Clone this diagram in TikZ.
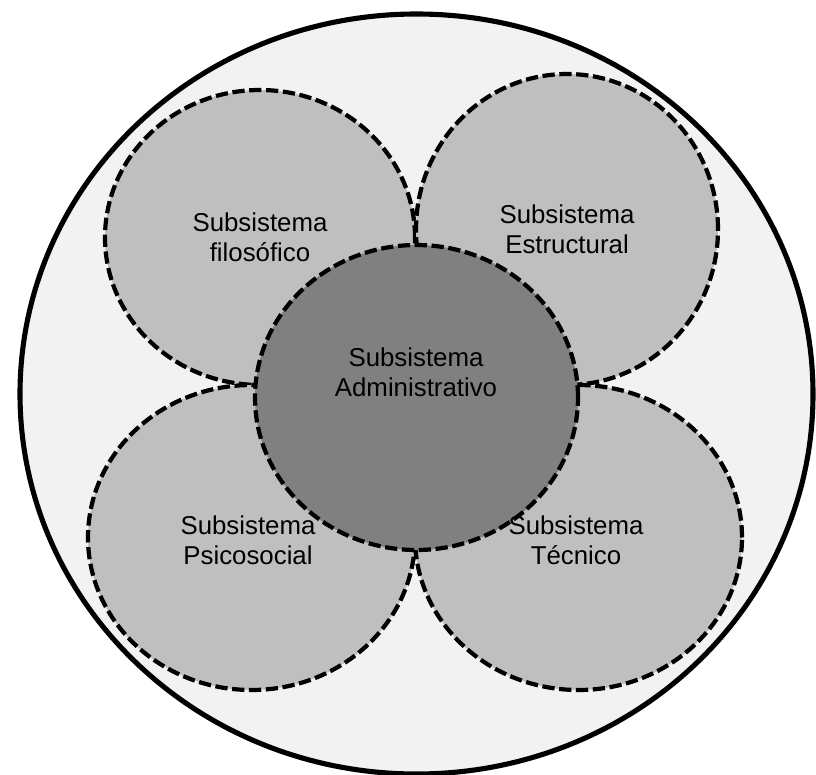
\documentclass[tikz,border=0pt]{standalone}
\usepackage{fontspec}
\setmainfont{Liberation Sans}
\usetikzlibrary{positioning,shapes.geometric}
\definecolor{outerfill}{HTML}{F2F2F2}
\definecolor{petalfill}{HTML}{BFBFBF}
\definecolor{corefill}{HTML}{808080}

\begin{document}
\begin{tikzpicture}[
    petal/.style={ellipse, draw, line width=2.4pt, dash pattern=on 7pt off 2.6pt,
                  fill=petalfill, align=center, inner sep=0pt,
                  font=\fontsize{14.7}{17.2}\selectfont},
    lbl/.style={align=center, font=\fontsize{14.7}{17.2}\selectfont},
]
  \useasboundingbox (0,0) rectangle (16.32,-15.48);

  % outer system
  \node[ellipse, draw, line width=2.9pt, fill=outerfill,
        minimum width=15.86cm, minimum height=15.2cm] (sys) at (8.33,-7.88) {};

  % subsystems
  \node[petal, minimum width=6.2cm, minimum height=5.9cm] (filo) at (5.2,-4.75)
    {Subsistema\\filosófico};
  \node[petal, minimum width=6.04cm, minimum height=6.22cm] (estr) at (11.34,-4.59)
    {Subsistema\\Estructural};
  \node[petal, minimum width=6.54cm, minimum height=6.1cm] (psico) at (5.03,-10.75)
    {};
  \node[petal, minimum width=6.54cm, minimum height=6.1cm] (tec) at (11.57,-10.75)
    {};

  % core
  \node[petal, fill=corefill, minimum width=6.46cm, minimum height=6.1cm] (adm) at (8.33,-7.95) {};
  \node[lbl] (admtxt) at (8.32,-7.44) {Subsistema\\Administrativo};

  % lower labels on top of the core
  \node[lbl] (psicotxt) at (4.96,-10.8) {Subsistema\\Psicosocial};
  \node[lbl] (tectxt) at (11.52,-10.8) {Subsistema\\Técnico};
\end{tikzpicture}
\end{document}
